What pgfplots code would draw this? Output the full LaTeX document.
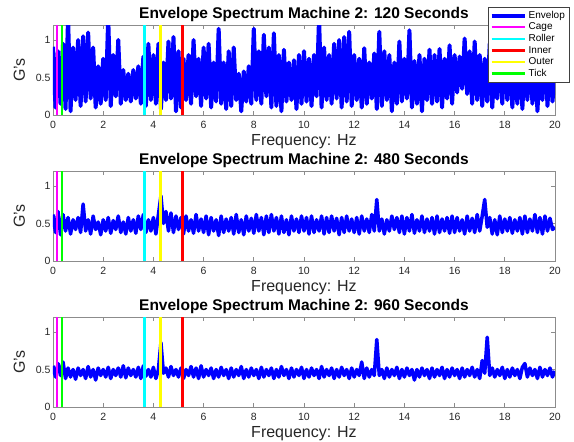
\documentclass[border=0pt]{standalone}
\usepackage{fontspec}
\setmainfont{Liberation Sans}
\usepackage{pgfplots}
\usepackage{pgfplotstable}
\pgfplotsset{compat=1.18}

\pgfplotstableread{
f a b c
0.0 0.91 0.62 0.55
0.1 0.10 0.38 0.40
0.2 0.85 0.66 0.58
0.3 0.15 0.35 0.42
0.4 0.95 0.62 0.60
0.5 0.08 0.40 0.38
0.6 1.30 0.58 0.52
0.7 0.05 0.36 0.40
0.8 0.90 0.55 0.50
0.9 0.20 0.42 0.37
1.0 1.00 0.58 0.52
1.1 0.12 0.38 0.42
1.2 1.05 0.76 0.50
1.3 0.18 0.40 0.38
1.4 1.10 0.55 0.54
1.5 0.22 0.36 0.40
1.6 0.90 0.60 0.50
1.7 0.10 0.42 0.36
1.8 0.65 0.52 0.52
1.9 0.15 0.35 0.42
2.0 0.75 0.55 0.50
2.1 0.20 0.40 0.40
2.2 1.30 0.58 0.53
2.3 0.12 0.37 0.38
2.4 0.80 0.54 0.50
2.5 0.25 0.42 0.42
2.6 1.00 0.60 0.52
2.7 0.15 0.38 0.40
2.8 0.60 0.52 0.55
2.9 0.20 0.36 0.39
3.0 0.55 0.58 0.52
3.1 0.18 0.40 0.42
3.2 0.60 0.55 0.50
3.3 0.22 0.37 0.40
3.4 0.65 0.60 0.53
3.5 0.15 0.42 0.38
3.6 0.78 0.62 0.55
3.7 0.12 0.38 0.41
3.8 0.95 0.55 0.50
3.9 0.20 0.40 0.40
4.0 0.80 0.58 0.53
4.1 0.15 0.36 0.38
4.2 0.95 0.62 0.50
4.3 0.08 0.87 0.86
4.4 0.70 0.50 0.45
4.5 0.20 0.66 0.52
4.6 0.98 0.40 0.40
4.7 0.22 0.64 0.54
4.8 1.04 0.38 0.42
4.9 0.05 0.60 0.50
5.0 0.85 0.42 0.40
5.1 0.10 0.58 0.52
5.2 0.75 0.36 0.38
5.3 0.20 0.60 0.50
5.4 0.80 0.40 0.42
5.5 0.15 0.55 0.54
5.6 1.00 0.37 0.40
5.7 0.25 0.62 0.52
5.8 0.75 0.40 0.38
5.9 0.12 0.56 0.55
6.0 0.90 0.38 0.40
6.1 0.22 0.60 0.50
6.2 0.95 0.35 0.42
6.3 0.10 0.58 0.52
6.4 0.70 0.40 0.38
6.5 0.18 0.55 0.50
6.6 1.15 0.34 0.40
6.7 0.15 0.60 0.53
6.8 0.70 0.38 0.42
6.9 0.08 0.56 0.50
7.0 0.85 0.40 0.38
7.1 0.12 0.58 0.52
7.2 0.90 0.36 0.40
7.3 0.20 0.62 0.50
7.4 0.55 0.38 0.42
7.5 0.05 0.55 0.54
7.6 0.58 0.35 0.38
7.7 0.18 0.60 0.50
7.8 0.65 0.40 0.40
7.9 0.15 0.57 0.52
8.0 1.15 0.37 0.42
8.1 0.20 0.62 0.50
8.2 0.85 0.40 0.38
8.3 0.15 0.58 0.53
8.4 1.07 0.35 0.40
8.5 0.25 0.60 0.50
8.6 0.90 0.38 0.42
8.7 0.10 0.62 0.52
8.8 1.09 0.40 0.38
8.9 0.12 0.58 0.50
9.0 0.80 0.36 0.40
9.1 0.05 0.60 0.54
9.2 0.87 0.38 0.42
9.3 0.18 0.55 0.50
9.4 0.70 0.35 0.38
9.5 0.20 0.60 0.52
9.6 0.73 0.40 0.40
9.7 0.08 0.56 0.50
9.8 0.80 0.38 0.42
9.9 0.15 0.60 0.53
10.0 0.85 0.40 0.38
10.1 0.18 0.58 0.50
10.2 0.75 0.36 0.40
10.3 0.12 0.60 0.52
10.4 0.80 0.38 0.42
10.5 0.25 0.55 0.50
10.6 1.30 0.40 0.38
10.7 0.10 0.60 0.54
10.8 0.90 0.36 0.40
10.9 0.20 0.58 0.50
11.0 0.80 0.38 0.42
11.1 0.15 0.60 0.52
11.2 0.95 0.40 0.38
11.3 0.22 0.57 0.50
11.4 1.00 0.35 0.40
11.5 0.10 0.58 0.53
11.6 1.04 0.38 0.42
11.7 0.18 0.60 0.50
11.8 1.11 0.40 0.38
11.9 0.12 0.56 0.52
12.0 0.80 0.38 0.40
12.1 0.20 0.58 0.50
12.2 0.75 0.36 0.42
12.3 0.10 0.60 0.60
12.4 0.89 0.40 0.38
12.5 0.15 0.56 0.52
12.6 0.70 0.38 0.40
12.7 0.22 0.62 0.50
12.8 0.82 0.40 0.42
12.9 0.08 0.82 0.90
13.0 1.11 0.40 0.42
13.1 0.12 0.56 0.50
13.2 0.85 0.36 0.38
13.3 0.20 0.55 0.52
13.4 0.80 0.40 0.40
13.5 0.05 0.60 0.50
13.6 0.70 0.42 0.42
13.7 0.15 0.58 0.53
13.8 0.98 0.38 0.38
13.9 0.18 0.60 0.50
14.0 0.75 0.36 0.40
14.1 0.22 0.58 0.52
14.2 1.13 0.40 0.42
14.3 0.10 0.62 0.50
14.4 0.72 0.37 0.36
14.5 0.15 0.55 0.50
14.6 0.80 0.40 0.40
14.7 0.05 0.60 0.52
14.8 0.75 0.38 0.42
14.9 0.20 0.56 0.50
15.0 0.87 0.40 0.38
15.1 0.15 0.58 0.52
15.2 0.80 0.36 0.40
15.3 0.18 0.60 0.50
15.4 0.88 0.38 0.42
15.5 0.10 0.56 0.53
15.6 0.75 0.40 0.38
15.7 0.22 0.58 0.50
15.8 0.93 0.37 0.40
15.9 0.15 0.60 0.52
16.0 0.80 0.38 0.42
16.1 0.30 0.58 0.50
16.2 0.78 0.40 0.38
16.3 0.35 0.55 0.52
16.4 1.02 0.36 0.40
16.5 0.28 0.60 0.50
16.6 0.85 0.40 0.42
16.7 0.15 0.57 0.53
16.8 0.98 0.38 0.40
16.9 0.20 0.62 0.50
17.0 0.80 0.40 0.38
17.1 0.12 0.60 0.62
17.2 0.75 0.82 0.45
17.3 0.18 0.45 0.93
17.4 0.95 0.58 0.42
17.5 0.10 0.36 0.52
17.6 0.70 0.55 0.40
17.7 0.22 0.35 0.50
17.8 1.00 0.60 0.42
17.9 0.15 0.38 0.53
18.0 0.85 0.56 0.38
18.1 0.20 0.40 0.50
18.2 0.90 0.58 0.40
18.3 0.10 0.37 0.52
18.4 0.70 0.55 0.42
18.5 0.15 0.40 0.50
18.6 0.95 0.58 0.38
18.7 0.08 0.36 0.53
18.8 0.80 0.60 0.58
18.9 0.20 0.38 0.40
19.0 0.90 0.56 0.52
19.1 0.15 0.40 0.42
19.2 0.85 0.62 0.50
19.3 0.05 0.38 0.38
19.4 0.70 0.58 0.53
19.5 0.20 0.36 0.40
19.6 0.95 0.60 0.50
19.7 0.12 0.40 0.42
19.8 0.75 0.57 0.52
19.9 0.18 0.42 0.40
20.0 0.60 0.45 0.48
}\spec

\definecolor{axgray}{gray}{0.55}
\definecolor{txtgray}{gray}{0.15}
\definecolor{envblue}{rgb}{0,0,1}
\definecolor{cmag}{rgb}{1,0,1}
\definecolor{ccyan}{rgb}{0,1,1}
\definecolor{cred}{rgb}{1,0,0}
\definecolor{cyel}{rgb}{1,1,0}
\definecolor{cgreen}{rgb}{0,1,0}

\pgfplotsset{envax/.style={
  scale only axis, width=502pt, height=90pt,
  xmin=0, xmax=20, ymin=0, ymax=1.2,
  xtick={0,2,...,20}, ytick={0,0.5,1},
  tick align=inside, major tick length=4pt,
  axis line style={axgray, line width=0.6pt},
  tick style={axgray, line width=0.6pt},
  tick label style={font=\fontsize{10.5}{12}\selectfont, text=txtgray},
  xticklabel style={yshift=-3pt},
  yticklabel style={xshift=1pt},
  /pgf/number format/assume math mode=true,
  xlabel={Frequency: Hz}, ylabel={G's},
  label style={font=\fontsize{16}{18}\selectfont, text=txtgray},
  xlabel style={yshift=1pt},
  ylabel style={yshift=4pt},
  title style={font=\bfseries\fontsize{15.5}{17}\selectfont, yshift=-6.5pt},
  clip=true,
  legend image code/.code={\draw[#1] (0pt,0pt) -- (33pt,0pt);},
  env/.style={envblue, line width=4pt, line join=round},
  envthin/.style={envblue, line width=3.5pt, line join=round},
  vl/.style={line width=2.4pt},
}}

\begin{document}
\begin{tikzpicture}
\useasboundingbox (-53pt,25pt) rectangle (521pt,-417pt);

\begin{axis}[envax, at={(0pt,0pt)}, anchor=north west,
  title={Envelope Spectrum Machine 2: 120 Seconds},
  legend style={at={(1.028,1.2)}, anchor=north east, draw=black!75, fill=white,
    font=\fontsize{10}{11}\selectfont, row sep=-1pt, inner sep=2pt,
    cells={anchor=west}, line width=0.4pt}]
\addplot[env] table[x=f, y=a] {\spec};
\addlegendentry{Envelop}
\addplot[vl, cmag] coordinates {(0.17,0) (0.17,1.2)};
\addlegendentry{Cage}
\addplot[vl, ccyan] coordinates {(3.64,0) (3.64,1.2)};
\addlegendentry{Roller}
\addplot[vl, cred] coordinates {(5.16,0) (5.16,1.2)};
\addlegendentry{Inner}
\addplot[vl, cyel] coordinates {(4.29,0) (4.29,1.2)};
\addlegendentry{Outer}
\addplot[vl, cgreen] coordinates {(0.37,0) (0.37,1.2)};
\addlegendentry{Tick}
\node[anchor=south west, inner sep=1pt, font=\fontsize{10}{11}\selectfont, text=txtgray] at (rel axis cs:0,1) {×10\textsuperscript{-3}};
\end{axis}

\begin{axis}[envax, at={(0pt,-146pt)}, anchor=north west,
  title={Envelope Spectrum Machine 2: 480 Seconds}]
\addplot[envthin] table[x=f, y=b] {\spec};
\addplot[vl, cmag] coordinates {(0.17,0) (0.17,1.2)};
\addplot[vl, ccyan] coordinates {(3.64,0) (3.64,1.2)};
\addplot[vl, cred] coordinates {(5.16,0) (5.16,1.2)};
\addplot[vl, cyel] coordinates {(4.29,0) (4.29,1.2)};
\addplot[vl, cgreen] coordinates {(0.37,0) (0.37,1.2)};
\node[anchor=south west, inner sep=1pt, font=\fontsize{10}{11}\selectfont, text=txtgray] at (rel axis cs:0,1) {×10\textsuperscript{-3}};
\end{axis}

\begin{axis}[envax, at={(0pt,-292pt)}, anchor=north west,
  title={Envelope Spectrum Machine 2: 960 Seconds}]
\addplot[envthin] table[x=f, y=c] {\spec};
\addplot[vl, cmag] coordinates {(0.17,0) (0.17,1.2)};
\addplot[vl, ccyan] coordinates {(3.64,0) (3.64,1.2)};
\addplot[vl, cred] coordinates {(5.16,0) (5.16,1.2)};
\addplot[vl, cyel] coordinates {(4.29,0) (4.29,1.2)};
\addplot[vl, cgreen] coordinates {(0.37,0) (0.37,1.2)};
\node[anchor=south west, inner sep=1pt, font=\fontsize{10}{11}\selectfont, text=txtgray] at (rel axis cs:0,1) {×10\textsuperscript{-3}};
\end{axis}
\end{tikzpicture}
\end{document}
